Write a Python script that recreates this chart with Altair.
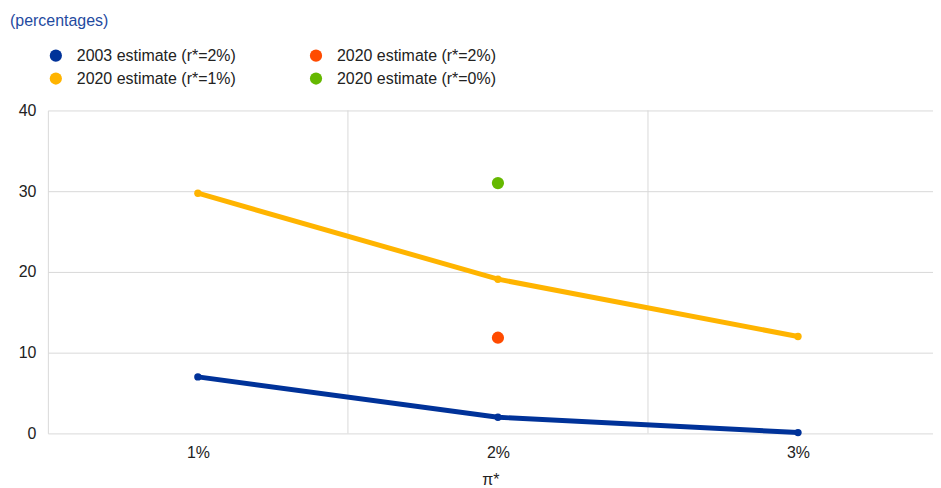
import altair as alt
import pandas as pd

# ---- data ----
pi_star = [1, 2, 3]
band_edges = [1.5, 2.5]

# legend is filled column by column: col 1 = first two, col 2 = last two
series_names = [
    "2003 estimate (r*=2%)",
    "2020 estimate (r*=1%)",
    "2020 estimate (r*=2%)",
    "2020 estimate (r*=0%)",
]
series_colors = ["#003299", "#ffb400", "#ff4b00", "#65b800"]

est_2003_r2 = [7.0, 2.0, 0.1]
est_2020_r1 = [29.75, 19.1, 12.0]
single_x = [2, 2]
single_series = ["2020 estimate (r*=2%)", "2020 estimate (r*=0%)"]
single_vals = [11.85, 31.0]
subtitle = ["(percentages)"]

line_df = pd.DataFrame({
    "pi": pi_star * 2,
    "value": est_2003_r2 + est_2020_r1,
    "series": [series_names[0]] * 3 + [series_names[1]] * 3,
})
point_df = pd.DataFrame({"pi": single_x, "value": single_vals, "series": single_series})
edge_df = pd.DataFrame({"pi": band_edges})
sub_df = pd.DataFrame({"t": subtitle})

FONT = "Liberation Sans"
FS = 16
X_DOMAIN = [0.5, 3.45]

color = alt.Color(
    "series:N",
    scale=alt.Scale(domain=series_names, range=series_colors),
    legend=alt.Legend(
        title=None, orient="none", legendX=0, legendY=-63, columns=2,
        symbolType="circle", symbolSize=150, symbolStrokeWidth=0,
        labelFont=FONT, labelFontSize=FS, labelColor="#222222",
        labelOffset=13, columnPadding=72, rowPadding=7, labelLimit=300,
    ),
)

x_enc = alt.X(
    "pi:Q",
    scale=alt.Scale(domain=X_DOMAIN, nice=False, zero=False),
    axis=alt.Axis(
        values=pi_star, labelExpr="datum.value + '%'", grid=False, ticks=False,
        domain=False, labelFont=FONT, labelFontSize=FS, labelColor="#222222",
        labelPadding=11, title="π*", titleFont=FONT, titleFontSize=FS,
        titleFontWeight="normal", titleColor="#222222", titlePadding=11,
    ),
)
y_enc = alt.Y(
    "value:Q",
    scale=alt.Scale(domain=[0, 40], nice=False),
    axis=alt.Axis(
        values=[0, 10, 20, 30, 40], ticks=False, domain=True, domainColor="#d9d9d9",
        grid=True, gridColor="#d9d9d9", labelFont=FONT, labelFontSize=FS,
        labelColor="#222222", labelPadding=12, title=None,
    ),
)

edges = alt.Chart(edge_df).mark_rule(color="#d9d9d9", strokeWidth=1).encode(
    x=alt.X("pi:Q", scale=alt.Scale(domain=X_DOMAIN, nice=False, zero=False)),
    y=alt.value(0), y2=alt.value(324),
)

lines = alt.Chart(line_df).mark_line(
    strokeWidth=5,
    point=alt.OverlayMarkDef(size=55, filled=True, opacity=1),
).encode(x=x_enc, y=y_enc, color=color)

points = alt.Chart(point_df).mark_point(size=150, filled=True, opacity=1).encode(
    x="pi:Q", y="value:Q", color=color
)

sub = alt.Chart(sub_df).mark_text(
    align="left", baseline="middle", font=FONT, fontSize=FS, color="#1f4aa0"
).encode(x=alt.value(-38), y=alt.value(-90), text="t:N")

chart = alt.layer(edges, lines, points, sub).properties(
    width=888, height=324,
    autosize=alt.AutoSizeParams(type="none"),
    padding={"left": 40, "top": 102, "right": 0, "bottom": 56},
).configure_view(stroke=None)

chart.save("out.html", embed_options={"renderer": "svg", "actions": False})
